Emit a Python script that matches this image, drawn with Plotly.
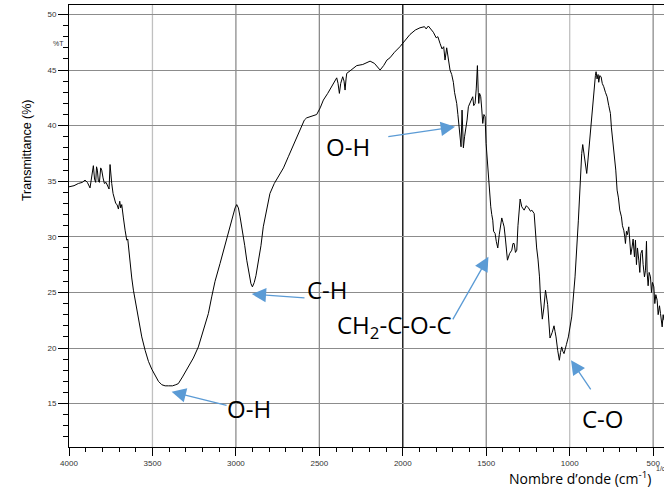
import plotly.graph_objects as go

wavenumber = [
    4000, 3970, 3944, 3920, 3904, 3890, 3874, 3862, 3854, 3847, 3840, 3835, 3830, 3824, 3818,
    3810, 3804, 3796, 3788, 3778, 3768, 3760, 3754, 3748, 3744, 3736, 3728, 3720, 3712, 3704,
    3696, 3690, 3684, 3678, 3674, 3664, 3654, 3648, 3640, 3634, 3624, 3614, 3594, 3580, 3564,
    3544, 3524, 3504, 3484, 3464, 3444, 3424, 3404, 3380, 3360, 3345, 3320, 3300, 3285, 3255,
    3225, 3195, 3165, 3145, 3125, 3095, 3070, 3045, 3020, 3005, 2995, 2985, 2975, 2965, 2959,
    2947, 2935, 2920, 2910, 2901, 2890, 2880, 2866, 2850, 2836, 2815, 2796, 2770, 2746, 2715,
    2686, 2650, 2616, 2590, 2576, 2540, 2516, 2495, 2476, 2450, 2426, 2405, 2396, 2388, 2380,
    2372, 2360, 2352, 2346, 2340, 2336, 2310, 2276, 2240, 2210, 2196, 2170, 2150, 2136, 2115,
    2095, 2077, 2050, 2017, 1990, 1957, 1925, 1897, 1870, 1860, 1847, 1835, 1817, 1800, 1790,
    1777, 1765, 1755, 1747, 1737, 1727, 1717, 1707, 1697, 1690, 1677, 1670, 1661, 1655, 1651,
    1645, 1640, 1637, 1630, 1623, 1615, 1607, 1595, 1581, 1575, 1567, 1560, 1553, 1548, 1545,
    1540, 1533, 1527, 1521, 1514, 1507, 1501, 1495, 1487, 1480, 1473, 1467, 1461, 1456, 1447,
    1440, 1431, 1422, 1415, 1407, 1400, 1393, 1385, 1378, 1373, 1360, 1347, 1340, 1333, 1325,
    1317, 1310, 1304, 1297, 1287, 1273, 1260, 1247, 1235, 1227, 1213, 1207, 1198, 1190, 1181,
    1175, 1164, 1155, 1145, 1132, 1118, 1105, 1094, 1088, 1082, 1072, 1062, 1055, 1048, 1041,
    1034, 1020, 1008, 988, 968, 948, 934, 928, 922, 910, 898, 890, 882, 868, 854,
    846, 842, 836, 830, 826, 820, 812, 805, 796, 786, 776, 766, 756, 750, 746,
    738, 732, 724, 716, 708, 700, 690, 684, 676, 670, 666, 660, 654, 646, 640,
    634, 626, 620, 612, 606, 600, 594, 586, 580, 574, 566, 560, 552, 546, 540,
    536, 530, 524, 516, 510, 504, 496, 490, 484, 476, 470, 462, 456, 450, 446,
    440, 435,
]

transmittance = [
    34.5, 34.6, 34.8, 34.9, 35.1, 34.9, 34.4, 35.5, 36.4, 35.2, 34.9, 36.3, 36.0, 35.0, 34.9,
    36.2, 36.0, 35.3, 34.8, 34.9, 34.5, 34.3, 36.5, 35.0, 34.8, 33.9, 33.3, 33.0, 32.9, 32.5,
    33.2, 32.6, 32.9, 32.0, 31.7, 30.6, 29.7, 29.8, 28.4, 27.3, 26.3, 25.2, 23.4, 22.3, 21.0,
    19.8, 18.8, 18.1, 17.6, 17.0, 16.7, 16.6, 16.6, 16.6, 16.7, 16.8, 17.4, 17.9, 18.3, 19.1,
    20.1, 21.5, 23.1, 24.6, 26.0, 27.6, 29.0, 30.3, 31.8, 32.6, 32.9, 32.6, 31.8, 31.0, 30.3,
    29.2, 27.9, 26.5, 25.8, 25.5, 25.9, 26.5, 27.6, 29.2, 30.9, 32.6, 33.9, 34.8, 35.4, 36.2,
    37.2, 38.5, 39.6, 40.5, 40.7, 40.9, 41.0, 41.6, 42.3, 42.9, 43.5, 44.0, 44.3, 43.8, 42.9,
    43.8, 44.4, 44.0, 43.2, 44.2, 44.7, 45.0, 45.4, 45.5, 45.7, 45.8, 45.6, 45.2, 45.0, 45.4,
    45.9, 46.1, 46.6, 47.1, 47.6, 48.2, 48.6, 48.8, 48.9, 48.7, 48.96, 48.7, 48.4, 47.9, 48.0,
    47.4, 46.9, 47.1, 45.9, 47.0, 46.0, 45.0, 44.6, 43.9, 43.0, 42.0, 41.0, 39.6, 38.6, 38.1,
    41.4, 39.5, 38.0, 39.0, 39.6, 40.5, 41.7, 42.2, 42.6, 41.8, 42.0, 43.3, 45.4, 43.0, 42.0,
    42.9, 42.6, 41.5, 40.2, 41.0, 40.8, 38.4, 37.0, 35.4, 34.0, 32.7, 32.0, 31.5, 30.5, 30.3,
    29.6, 29.0, 30.2, 31.2, 31.7, 31.3, 30.9, 29.8, 28.5, 27.9, 28.5, 28.8, 29.4, 29.4, 28.6,
    28.8, 31.0, 32.6, 33.4, 32.7, 32.4, 32.8, 32.6, 32.3, 32.4, 32.1, 30.5, 29.0, 28.0, 26.4,
    24.5, 22.6, 23.6, 25.2, 23.9, 20.9, 21.4, 22.0, 21.5, 21.0, 19.8, 18.9, 19.6, 20.1, 19.7,
    19.5, 20.3, 21.0, 22.8, 26.4, 31.5, 36.0, 37.5, 38.3, 37.0, 35.7, 37.0, 38.4, 41.4, 43.8,
    44.5, 44.85, 44.2, 44.6, 43.9, 44.5, 44.4, 43.8, 43.5, 43.0, 42.6, 41.8, 41.1, 39.8, 39.3,
    38.3, 37.5, 36.0, 34.2, 33.5, 32.4, 31.8, 31.0, 30.6, 30.0, 29.4, 30.5, 30.2, 30.9, 29.5,
    28.4, 29.1, 29.8, 28.2, 29.7, 27.5, 29.0, 27.9, 26.8, 28.5, 28.8, 27.5, 26.4, 27.0, 29.6,
    26.8, 25.6, 26.8, 26.4, 25.0, 25.9, 25.5, 24.0, 24.8, 24.3, 23.0, 23.8, 23.1, 21.9, 21.9,
    23.0, 22.5,
]

x_ticks = [4000, 3500, 3000, 2500, 2000, 1500, 1000, 500]
y_ticks = [15, 20, 25, 30, 35, 40, 45, 50]

# labels: (text, wavenumber, transmittance)
labels = [
    ("O-H", 2328, 38.1),
    ("C-H", 2454, 25.3),
    ("CH<sub>2</sub>-C-O-C", 2047, 22.0),
    ("O-H", 2921, 14.6),
    ("C-O", 800, 13.7),
]
# arrows: (tail_wn, tail_T, head_wn, head_T)
arrows = [
    (2096, 39.0, 1687, 39.9),
    (2580, 24.5, 2905, 24.85),
    (1707, 22.4, 1487, 28.2),
    (3047, 14.8, 3385, 16.07),
    (866, 16.1, 992, 18.9),
]

blue = "#5b9bd5"
fig = go.Figure()
fig.add_trace(go.Scatter(x=wavenumber, y=transmittance, mode="lines",
                         line=dict(color="black", width=1), showlegend=False,
                         hoverinfo="skip"))

grid_colors = {3500: "#c0c0c0", 3000: "#8c8c8c", 2500: "#8c8c8c",
               2000: "#000000", 1500: "#8c8c8c", 1000: "#c0c0c0", 500: "#8c8c8c"}
shapes = []
for v in x_ticks:
    c = grid_colors.get(v)
    if c:
        shapes.append(dict(type="line", xref="x", yref="paper", x0=v, x1=v, y0=0, y1=1,
                           line=dict(color=c, width=1.3), layer="below"))

annotations = []
for t, xv, yv in labels:
    annotations.append(dict(text=t, x=xv, y=yv, xref="x", yref="y", showarrow=False,
                            font=dict(family="Open Sans", size=24, color="black")))
for tx, ty, hx, hy in arrows:
    annotations.append(dict(text=" ", x=hx, y=hy, ax=tx, ay=ty, xref="x", yref="y",
                            axref="x", ayref="y", showarrow=True, arrowhead=2,
                            arrowsize=2.2, arrowwidth=1.3, arrowcolor=blue, standoff=0,
                            font=dict(size=1)))

annotations.append(dict(text="%T", x=(51 - 69) / 595, y=47.4, xref="paper", yref="y",
                        showarrow=False, font=dict(family="Liberation Sans", size=7, color="#333")))
annotations.append(dict(text="Transmittance (%)", x=(18 - 69) / 595, y=37.8, xref="paper",
                        yref="y", showarrow=False, textangle=-90,
                        font=dict(family="Liberation Sans", size=12.5, color="black")))
annotations.append(dict(text="Nombre d\u2019onde (cm<sup>-1</sup>)", x=(507 - 69) / 595,
                        xanchor="left", y=-31 / 442, yref="paper", xref="paper",
                        yanchor="middle", showarrow=False,
                        font=dict(family="Open Sans", size=14, color="black")))
annotations.append(dict(text="1/cm", x=(654 - 69) / 595, xanchor="left", y=-21 / 442,
                        yanchor="middle", xref="paper", yref="paper", showarrow=False,
                        font=dict(family="Liberation Sans", size=7, color="#333")))

fig.update_layout(
    width=664, height=488,
    margin=dict(l=69, r=0, t=5, b=41),
    plot_bgcolor="white", paper_bgcolor="white",
    shapes=shapes, annotations=annotations,
    xaxis=dict(range=[4000, 435], tickvals=x_ticks, showgrid=False, zeroline=False,
               showline=True, linecolor="black", linewidth=1, mirror=True,
               ticks="outside", ticklen=8, tickcolor="black",
               tickfont=dict(family="Liberation Sans", size=8, color="#333"),
               minor=dict(dtick=100, ticks="outside", ticklen=4, tickcolor="black", showgrid=False)),
    yaxis=dict(range=[11.1, 50.85], tickvals=y_ticks, showgrid=True, gridcolor="#8c8c8c",
               gridwidth=1.3, zeroline=False, showline=True, linecolor="black", linewidth=1,
               ticks="outside", ticklen=10, tickcolor="black",
               tickfont=dict(family="Liberation Sans", size=8, color="#333"),
               minor=dict(dtick=1, ticks="outside", ticklen=5, tickcolor="black", showgrid=False)),
)

fig.write_html("out.html")
